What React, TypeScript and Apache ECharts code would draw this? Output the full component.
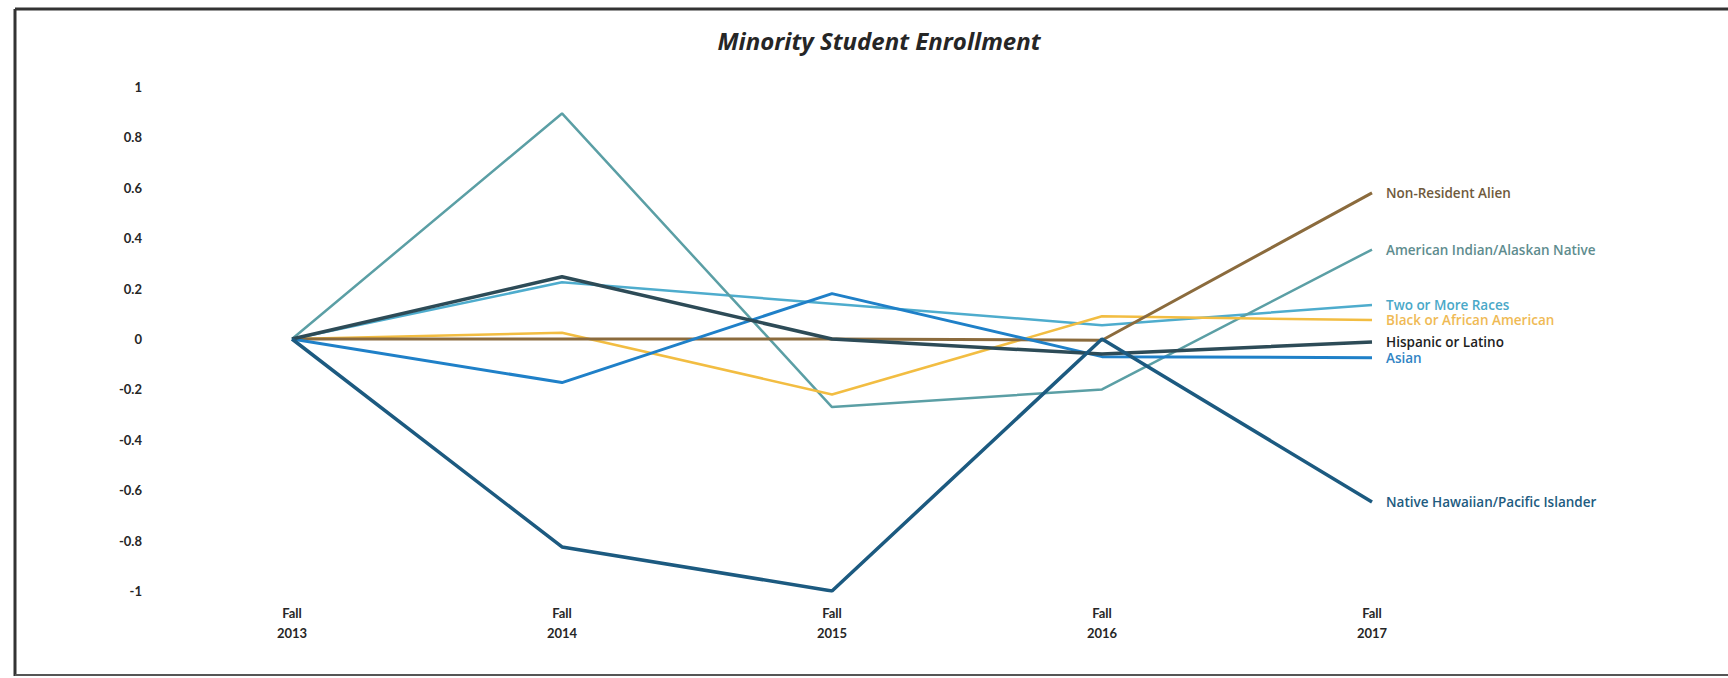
import React, { useEffect, useRef } from "react";
import * as echarts from "echarts";

const categories = ["Fall\n2013", "Fall\n2014", "Fall\n2015", "Fall\n2016", "Fall\n2017"];

const nonResidentAlien = [0, 0, 0, -0.005, 0.58];
const americanIndian = [0, 0.895, -0.27, -0.2, 0.355];
const twoOrMoreRaces = [0, 0.225, 0.14, 0.055, 0.135];
const blackAfricanAmerican = [0, 0.025, -0.22, 0.09, 0.075];
const hispanicLatino = [0, 0.247, 0, -0.06, -0.012];
const asian = [0, -0.173, 0.18, -0.07, -0.074];
const nativeHawaiian = [0, -0.825, -1.0, 0, -0.647];

const FONT = "Lato, 'Open Sans', sans-serif";
const LABEL_FONT = "'Open Sans', Lato, sans-serif";

export default function App() {
  const ref = useRef<HTMLDivElement>(null);

  useEffect(() => {
    document.body.style.margin = "0";
    if (!ref.current) return;
    const chart = echarts.init(ref.current, undefined, { renderer: "svg" });

    const mk = (name: string, data: number[], color: string, labelColor: string, width: number, z: number) => ({
      name,
      type: "line",
      data,
      symbol: "none",
      z,
      lineStyle: { color, width },
      itemStyle: { color },
      endLabel: {
        show: true,
        formatter: name,
        color: labelColor,
        fontFamily: LABEL_FONT,
        fontWeight: 600,
        fontSize: 13.5,
        distance: 14,
      },
    });

    chart.setOption({
      animation: false,
      backgroundColor: "#ffffff",
      textStyle: { fontFamily: FONT },
      title: {
        text: "Minority Student Enrollment",
        left: 874,
        top: 23,
        textAlign: "center",
        textStyle: {
          fontFamily: LABEL_FONT,
          fontWeight: "bold",
          fontStyle: "italic",
          fontSize: 24,
          color: "#262626",
        },
      },
      grid: { left: 292, right: 356, top: 87, bottom: 87, containLabel: false },
      xAxis: {
        type: "category",
        data: categories,
        boundaryGap: false,
        axisLine: { show: false },
        axisTick: { show: false },
        splitLine: { show: false },
        axisLabel: {
          margin: 12,
          color: "#262626",
          fontFamily: FONT,
          fontWeight: "bold",
          fontSize: 13,
          lineHeight: 20,
        },
      },
      yAxis: {
        type: "value",
        min: -1,
        max: 1,
        interval: 0.2,
        axisLine: { show: false },
        axisTick: { show: false },
        splitLine: { show: false },
        axisLabel: {
          margin: 150,
          color: "#262626",
          fontFamily: FONT,
          fontWeight: "bold",
          fontSize: 13,
        },
      },
      graphic: [
        { type: "line", shape: { x1: 15, y1: 9, x2: 1728, y2: 9 }, style: { stroke: "#333", lineWidth: 3 } },
        { type: "line", shape: { x1: 15, y1: 9, x2: 15, y2: 676 }, style: { stroke: "#333", lineWidth: 3 } },
        { type: "line", shape: { x1: 15, y1: 675, x2: 1728, y2: 675 }, style: { stroke: "#555", lineWidth: 2 } },
      ],
      series: [
        mk("Two or More Races", twoOrMoreRaces, "#4eaccd", "#4aa8c8", 2.5, 2),
        mk("American Indian/Alaskan Native", americanIndian, "#5b9fa5", "#5e8c8e", 2.5, 3),
        mk("Black or African American", blackAfricanAmerican, "#f2bd42", "#efba55", 2.5, 3),
        mk("Non-Resident Alien", nonResidentAlien, "#8b6b3d", "#6f5a3c", 3, 4),
        mk("Asian", asian, "#1f80c8", "#3184c4", 3, 4),
        mk("Hispanic or Latino", hispanicLatino, "#2d4b57", "#1e1e1e", 3.5, 5),
        mk("Native Hawaiian/Pacific Islander", nativeHawaiian, "#1c5a80", "#215b80", 3.5, 5),
      ],
    });

    return () => chart.dispose();
  }, []);

  return <div ref={ref} style={{ width: 1728, height: 678 }} />;
}
